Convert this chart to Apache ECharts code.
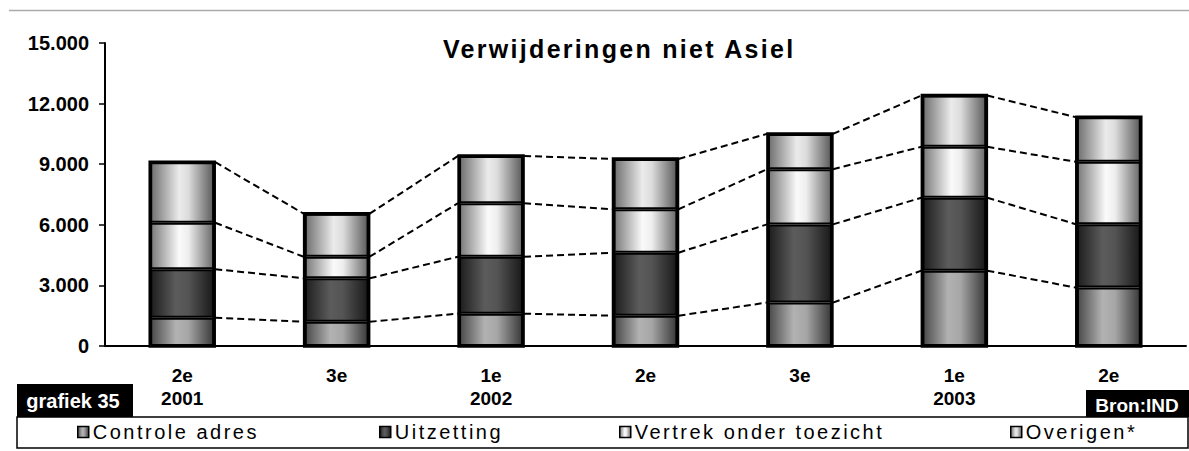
<!DOCTYPE html>
<html><head><meta charset="utf-8">
<script src="https://cdn.jsdelivr.net/npm/echarts@6/dist/echarts.min.js"></script>
<style>html,body{margin:0;padding:0;background:#fff}#c{width:1189px;height:451px}</style>
</head><body><div id="c"></div>
<script>
// ---- data ----
const QUARTERS = ['2e', '3e', '1e', '2e', '3e', '1e', '2e'];
const YEARS = ['2001', '', '2002', '', '', '2003', ''];
const SERIES_NAMES = ['Controle adres', 'Uitzetting', 'Vertrek onder toezicht', 'Overigen*'];
const CONTROLE_ADRES = [1400, 1200, 1600, 1500, 2150, 3730, 2890];
const UITZETTING = [2400, 2150, 2820, 3120, 3870, 3610, 3140];
const VERTREK_ONDER_TOEZICHT = [2300, 1070, 2650, 2150, 2730, 2520, 3090];
const OVERIGEN = [3000, 2130, 2340, 2490, 1750, 2540, 2210];
const Y_MIN = 0, Y_MAX = 15000, Y_STEP = 3000;
const TITLE = 'Verwijderingen niet Asiel';
const CHART_NO = 'grafiek 35';
const SOURCE = 'Bron:IND';

// ---- styling ----
const FONT = '"Liberation Sans", Arial, sans-serif';
const BAR_W = 64;
const SERIES_DATA = [CONTROLE_ADRES, UITZETTING, VERTREK_ONDER_TOEZICHT, OVERIGEN];
function grad(stops) {
  return { type: 'linear', x: 0, y: 0, x2: 1, y2: 0,
    colorStops: stops.map(([o, c]) => ({ offset: o, color: c })) };
}
const FILLS = [
  grad([[0, '#4a4a4a'], [0.4, '#b2b2b2'], [0.6, '#a6a6a6'], [1, '#3a3a3a']]),
  grad([[0, '#1e1e1e'], [0.4, '#5c5c5c'], [0.6, '#545454'], [1, '#1a1a1a']]),
  grad([[0, '#7a7a7a'], [0.45, '#fafafa'], [0.6, '#eeeeee'], [1, '#6a6a6a']]),
  grad([[0, '#707070'], [0.45, '#ebebeb'], [0.6, '#dcdcdc'], [1, '#5c5c5c']])
];
const LEGEND_X = [77, 379, 619, 1010];
const SPACING = {
  'Verwijderingen niet Asiel': 2.3,
  'Controle adres': 2.5, 'Uitzetting': 2.5, 'Vertrek onder toezicht': 2.5, 'Overigen*': 2.5
};

// cumulative levels (built from the series arrays)
const CUM = [];
SERIES_DATA.forEach((arr, k) => {
  CUM.push(arr.map((v, i) => v + (k ? CUM[k - 1][i] : 0)));
});
const connectorData = [];
CUM.forEach(level => {
  for (let i = 0; i < level.length - 1; i++) connectorData.push([i, level[i], level[i + 1]]);
});
const outlineData = CUM[CUM.length - 1].map((v, i) => [i, v]);

function thousands(v) { return String(v).replace(/\B(?=(\d{3})+(?!\d))/g, '.'); }

const series = SERIES_DATA.map((d, k) => ({
  name: SERIES_NAMES[k], type: 'bar', stack: 'total', barWidth: BAR_W, data: d,
  itemStyle: { color: FILLS[k], borderColor: '#000', borderWidth: 2 },
  emphasis: { disabled: true }
}));
series.push({
  type: 'custom', name: 'outline', z: 5, silent: true,
  data: outlineData, encode: { x: 0, y: 1 },
  renderItem(params, api) {
    const top = api.coord([api.value(0), api.value(1)]);
    const bot = api.coord([api.value(0), 0]);
    return { type: 'rect', shape: { x: top[0] - BAR_W / 2, y: top[1], width: BAR_W, height: bot[1] - top[1] },
      style: { fill: 'none', stroke: '#000', lineWidth: 3.5 } };
  }
});
series.push({
  type: 'custom', name: 'connectors', z: 4, silent: true,
  data: connectorData, encode: { x: 0, y: [1, 2] },
  renderItem(params, api) {
    const i = api.value(0);
    const p1 = api.coord([i, api.value(1)]);
    const p2 = api.coord([i + 1, api.value(2)]);
    return { type: 'line',
      shape: { x1: p1[0] + BAR_W / 2 + 1, y1: p1[1], x2: p2[0] - BAR_W / 2 - 1, y2: p2[1] },
      style: { stroke: '#000', lineWidth: 2, lineDash: [7, 4] } };
  }
});

const option = {
  animation: false,
  backgroundColor: '#fff',
  title: {
    text: TITLE, left: 438, top: 31,
    textStyle: { fontFamily: FONT, fontSize: 25, fontWeight: 'bold', color: '#000' }
  },
  grid: { left: 105, right: 3, top: 43, bottom: 105 },
  xAxis: {
    type: 'category', data: QUARTERS,
    axisLine: { lineStyle: { color: '#000', width: 2 } },
    axisTick: { length: 6, lineStyle: { color: '#000', width: 1.5 } },
    axisLabel: {
      interval: 0, margin: 18, fontFamily: FONT, fontSize: 19, fontWeight: 'bold',
      color: '#000', lineHeight: 23,
      formatter: (v, i) => YEARS[i] ? v + '\n' + YEARS[i] : v
    }
  },
  yAxis: {
    type: 'value', min: Y_MIN, max: Y_MAX, interval: Y_STEP,
    splitLine: { show: false },
    axisLine: { show: true, lineStyle: { color: '#000', width: 2 } },
    axisTick: { show: true, length: 6, lineStyle: { color: '#000', width: 1.5 } },
    axisLabel: { margin: 16, fontFamily: FONT, fontSize: 20, fontWeight: 'bold', color: '#000',
      formatter: thousands }
  },
  legend: SERIES_NAMES.map((n, k) => ({
    data: [n], left: LEGEND_X[k], top: 422, padding: 0, itemGap: 0,
    itemWidth: 11, itemHeight: 11, icon: 'rect', selectedMode: false,
    itemStyle: { borderColor: '#000', borderWidth: 1.5 },
    textStyle: { fontFamily: FONT, fontSize: 20, color: '#000', padding: [0, 0, 0, -1] }
  })),
  graphic: [
    { type: 'line', shape: { x1: 9, y1: 10.5, x2: 1189, y2: 10.5 }, style: { stroke: '#aaa', lineWidth: 1.5 } },
    { type: 'rect', shape: { x: 17, y: 417, width: 1171, height: 31 }, style: { fill: 'none', stroke: '#000', lineWidth: 1.5 } },
    { type: 'rect', shape: { x: 17, y: 384, width: 116, height: 33 }, style: { fill: '#000' } },
    { type: 'text', x: 73, y: 401, style: { text: CHART_NO, fill: '#fff', font: 'bold 20px ' + FONT, align: 'center', verticalAlign: 'middle' } },
    { type: 'rect', shape: { x: 1086, y: 390, width: 103, height: 27 }, style: { fill: '#000' } },
    { type: 'text', x: 1137, y: 405, style: { text: SOURCE, fill: '#fff', font: 'bold 19px ' + FONT, align: 'center', verticalAlign: 'middle' } }
  ],
  series
};

const dom = document.getElementById('c');
const chart = echarts.init(dom, null, { renderer: 'svg' });
chart.setOption(option);
function applySpacing() {
  dom.querySelectorAll('text').forEach(t => {
    const s = SPACING[t.textContent];
    if (s != null) t.setAttribute('letter-spacing', s + 'px');
  });
}
applySpacing();
chart.on('finished', applySpacing);
</script>
</body></html>
